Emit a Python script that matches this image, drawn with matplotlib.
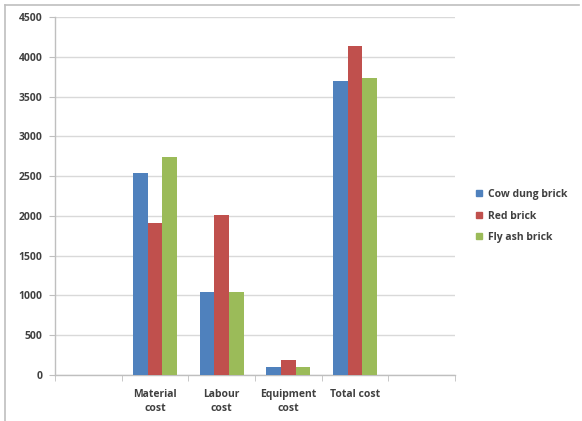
import matplotlib
matplotlib.use("Agg")
import matplotlib.pyplot as plt
import numpy as np
from matplotlib.lines import Line2D

# Cost comparison of brick types
categories = ["Material\ncost", "Labour\ncost", "Equipment\ncost", "Total cost"]
series_names = ["Cow dung brick", "Red brick", "Fly ash brick"]
cow_dung = [2535, 1040, 95, 3690]
red_brick = [1915, 2015, 190, 4130]
fly_ash = [2745, 1040, 95, 3730]
y_ticks = [0, 500, 1000, 1500, 2000, 2500, 3000, 3500, 4000, 4500]

colors = ["#4F81BD", "#C0504D", "#9BBB59"]
text_color = "#404040"
grid_color = "#D9D9D9"
axis_color = "#BFBFBF"

plt.rcParams["font.family"] = ["Open Sans", "DejaVu Sans"]

fig = plt.figure(figsize=(5.82, 4.21), dpi=100)
W, H = 582, 421

# outer chart-area border (left and top edges)
fig.add_artist(Line2D([5 / W, 5 / W], [0, 1 - 5 / H], transform=fig.transFigure,
                      color=axis_color, linewidth=1.2))
fig.add_artist(Line2D([5 / W, 0.995], [1 - 5 / H, 1 - 5 / H], transform=fig.transFigure,
                      color=axis_color, linewidth=1.2))

ax = fig.add_axes([55 / W, 1 - 375 / H, 400 / W, 358 / H])

# one empty slot on each side of the four cost groups
positions = np.arange(1, len(categories) + 1)
bar_w = 0.22
series = [cow_dung, red_brick, fly_ash]
for i, (vals, name, col) in enumerate(zip(series, series_names, colors)):
    ax.bar(positions + (i - 1) * bar_w, vals, width=bar_w, color=col,
           label=name, zorder=3, linewidth=0)

ax.set_xlim(-0.5, 5.5)
ax.set_ylim(0, 4500)
ax.set_yticks(y_ticks)
ax.set_yticklabels([str(v) for v in y_ticks], fontsize=7.5,
                   color=text_color, fontweight="bold")
ax.set_xticks(positions)
ax.set_xticklabels(categories, fontsize=7.5, color=text_color,
                   fontweight="bold", linespacing=1.45)
ax.set_xticks(np.arange(-0.5, 6.0, 1.0), minor=True)
ax.tick_params(axis="x", which="major", length=0, pad=10)
ax.tick_params(axis="x", which="minor", length=4, color=axis_color,
               direction="out")
ax.tick_params(axis="y", length=4, color=axis_color, pad=5)

ax.yaxis.grid(True, color=grid_color, linewidth=1.0, zorder=0)
ax.set_axisbelow(True)
for side in ["top", "right"]:
    ax.spines[side].set_visible(False)
for side in ["left", "bottom"]:
    ax.spines[side].set_color(axis_color)
    ax.spines[side].set_linewidth(1.0)

handles = [Line2D([0], [0], marker="s", linestyle="none", markersize=4,
                  markerfacecolor=c, markeredgecolor=c) for c in colors]
leg = fig.legend(handles, series_names, loc="center left",
                 bbox_to_anchor=(472 / W, 1 - 216 / H), frameon=False,
                 fontsize=7.5, handlelength=0.6, handletextpad=0.5,
                 labelspacing=1.0, borderaxespad=0)
for t in leg.get_texts():
    t.set_color(text_color)
    t.set_fontweight("bold")

fig.savefig("out.png", dpi=100, facecolor="white")
